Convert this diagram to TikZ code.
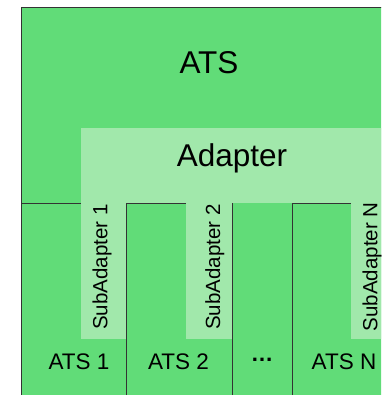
\documentclass[tikz,border=0pt]{standalone}
\usepackage{fontspec}
\setmainfont{Liberation Sans}
\definecolor{atsgreen}{RGB}{97,220,120}
\definecolor{adgreen}{RGB}{161,232,171}
\begin{document}
\begin{tikzpicture}[x=1pt,y=-1pt,
  edge/.style={draw=black!80, line width=0.9pt},
  ad/.style={fill=adgreen},
  big/.style={inner sep=0pt, anchor=base, font=\fontsize{31.5}{31.5}\selectfont},
  bot/.style={inner sep=0pt, anchor=base, font=\fontsize{22.5}{22.5}\selectfont},
  sub/.style={inner sep=0pt, rotate=90, anchor=base west, font=\fontsize{20.5}{20.5}\selectfont}]
\useasboundingbox (0,0) rectangle (381,395);
\clip (0,0) rectangle (381,395);
\fill[white] (0,0) rectangle (381,395);
% outer ATS
\fill[atsgreen] (21,7) rectangle (420,420);
\draw[edge] (21,420) -- (21,7) -- (420,7);
% adapter
\fill[ad] (81,128) rectangle (420,203);
% sub adapters
\fill[ad] (81,203) rectangle (126,339);
\fill[ad] (186,203) rectangle (232,339);
\fill[ad] (351,203) rectangle (420,339);
% box edges
\draw[edge] (21,203) -- (81,203);
\draw[edge] (126,420) -- (126,203) -- (186,203);
\draw[edge] (232,420) -- (232,203);
\draw[edge] (292,420) -- (292,203) -- (351,203);
% texts
\node[big] (ats) at (209,73.3) {ATS};
\node[big] (adapter) at (232,166.7) {Adapter};
\node[sub] (sa1) at (107.3,330) {SubAdapter 1};
\node[sub] (sa2) at (220,330) {SubAdapter 2};
\node[sub] (san) at (377.3,331.5) {SubAdapter N};
\node[bot] (ats1) at (79,369) {ATS 1};
\node[bot] (ats2) at (178.5,369) {ATS 2};
\node[inner sep=0pt, font=\fontsize{22.5}{22.5}\selectfont\bfseries] (dots) at (262,360) {…};
\node[bot] (atsn) at (344,369) {ATS N};
\end{tikzpicture}
\end{document}
